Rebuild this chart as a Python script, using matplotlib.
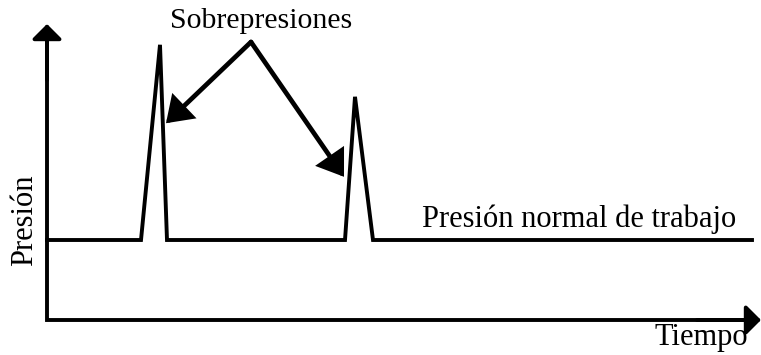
import matplotlib
matplotlib.use("Agg")
import matplotlib.pyplot as plt

# Data (time in arbitrary units, pressure relative to normal working pressure)
tiempo = [0, 94, 113, 120, 298, 308, 326, 705]
presion = [1.0, 1.0, 3.44, 1.0, 1.0, 2.79, 1.0, 1.0]

titulo_picos = "Sobrepresiones"
etiqueta_normal = "Presión normal de trabajo"
etiqueta_x = "Tiempo"
etiqueta_y = "Presión"

# peak annotation targets (time, pressure) and label apex
apice = (204, 3.475)
objetivos = [(119, 2.46), (297, 1.79)]

plt.rcParams['font.family'] = ['Liberation Serif', 'DejaVu Serif']

fig = plt.figure(figsize=(7.61, 3.55), dpi=100)
ax = fig.add_axes([0, 0, 1, 1])
ax.set_xlim(-47, 714)
ax.set_ylim(-35 / 80, 320 / 80)
ax.axis('off')

# axes (L shape) with arrow heads
ax.plot([0, 0, 705], [3.6, 0, 0], color='black', lw=2.8,
        solid_joinstyle='miter', solid_capstyle='butt')
head = '-|>,head_length=0.45,head_width=0.45'
ax.annotate('', xy=(0, 3.70), xytext=(0, 3.0),
            arrowprops=dict(arrowstyle=head, mutation_scale=20, lw=2.8,
                            color='black', shrinkA=0, shrinkB=0))
ax.annotate('', xy=(714, 0), xytext=(650, 0),
            arrowprops=dict(arrowstyle=head, mutation_scale=20, lw=2.8,
                            color='black', shrinkA=0, shrinkB=0))

# pressure curve
ax.plot(tiempo, presion, color='black', lw=2.8, solid_joinstyle='miter')

# annotation arrows
for tx, ty in objetivos:
    ax.annotate('', xy=(tx, ty), xytext=apice,
                arrowprops=dict(arrowstyle='-|>,head_length=0.68,head_width=0.47',
                                mutation_scale=20, lw=3.4, color='black',
                                shrinkA=0, shrinkB=0, joinstyle='miter'))

ax.text(214, (320 - 28) / 80, titulo_picos, ha='center', va='baseline', fontsize=21.5)
ax.text(375, (320 - 227) / 80, etiqueta_normal, ha='left', va='baseline', fontsize=22)
ax.text(701, (320 - 345) / 80, etiqueta_x, ha='right', va='baseline', fontsize=22)
ax.text(-22, (320 - 220) / 80, etiqueta_y, ha='center', va='center', rotation=90, fontsize=22)

fig.savefig('out.png', dpi=100)
